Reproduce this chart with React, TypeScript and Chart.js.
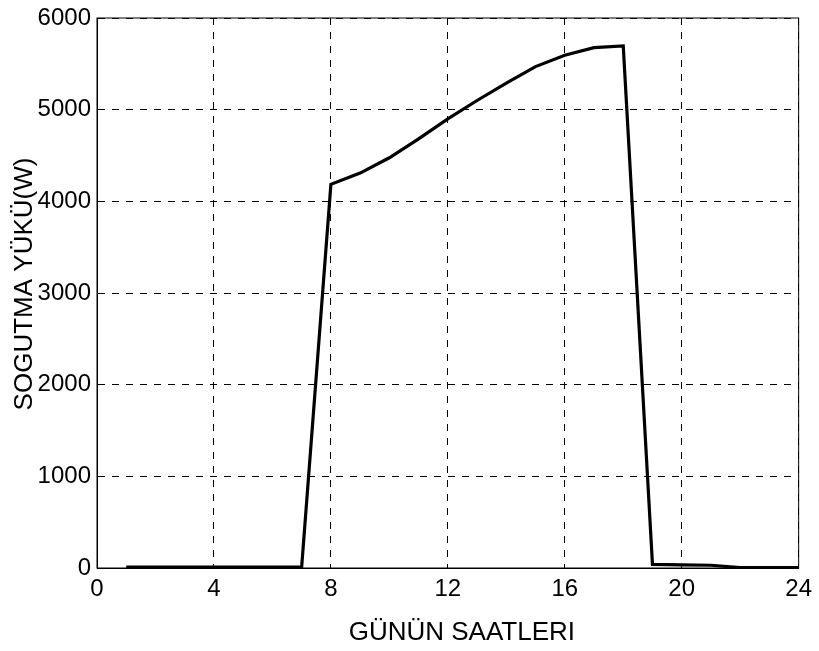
import React, { useEffect, useRef } from "react";
import { Chart, registerables } from "chart.js";

Chart.register(...registerables);

const hours = [1, 2, 3, 4, 5, 6, 7, 8, 9, 10, 11, 12, 13, 14, 15, 16, 17, 18, 19, 20, 21, 22, 23, 24];
const coolingLoad = [10, 10, 10, 10, 10, 10, 10, 4185, 4308, 4475, 4681, 4899, 5100, 5290, 5470, 5594, 5676, 5696, 40, 35, 30, 5, 5, 5];
const xTicks = [0, 4, 8, 12, 16, 20, 24];
const yTicks = [0, 1000, 2000, 3000, 4000, 5000, 6000];
const xTitle = "GÜNÜN SAATLERI";
const yTitle = "SOGUTMA YÜKÜ(W)";

const FONT = "'Liberation Sans', Arial, Helvetica, sans-serif";

const framePlugin = {
  id: "frameAndTitles",
  afterDraw(chart: any) {
    const { ctx, chartArea } = chart;
    const { left, right, top, bottom } = chartArea;
    ctx.save();
    ctx.strokeStyle = "#000";
    ctx.lineWidth = 1;
    ctx.setLineDash([]);
    ctx.strokeRect(left, top, right - left, bottom - top);
    ctx.fillStyle = "#000";
    ctx.font = `26px ${FONT}`;
    ctx.textAlign = "center";
    ctx.textBaseline = "middle";
    ctx.fillText(xTitle, (left + right) / 2 + 14, 633);
    ctx.translate(25, 284);
    ctx.rotate(-Math.PI / 2);
    ctx.fillText(yTitle, 0, 0);
    ctx.restore();
  },
};

export default function App() {
  const ref = useRef<HTMLCanvasElement>(null);
  useEffect(() => {
    document.body.style.margin = "0";
    const canvas = ref.current;
    if (!canvas) return;
    const chart = new Chart(canvas, {
      type: "line",
      data: {
        datasets: [
          {
            data: hours.map((h, i) => ({ x: h, y: coolingLoad[i] })),
            borderColor: "#000",
            borderWidth: 3.2,
            pointRadius: 0,
            tension: 0,
            fill: false,
          },
        ],
      },
      options: {
        responsive: false,
        animation: false,
        layout: { padding: { top: 13, right: 19, left: 0, bottom: 0 } },
        plugins: { legend: { display: false }, tooltip: { enabled: false } },
        scales: {
          x: {
            type: "linear",
            min: 0,
            max: 24,
            afterFit: (s: any) => {
              s.height = 83;
            },
            afterBuildTicks: (s: any) => {
              s.ticks = xTicks.map((v) => ({ value: v }));
            },
            ticks: {
              color: "#000",
              font: { family: FONT, size: 24 },
              padding: 7,
              maxRotation: 0,
              autoSkip: false,
              callback: (v: any) => String(v),
            },
            grid: { color: "#000", lineWidth: 1, drawTicks: false },
            border: { display: true, color: "#000", width: 1, dash: [7, 7] },
          },
          y: {
            type: "linear",
            min: 0,
            max: 6000,
            afterFit: (s: any) => {
              s.width = 97;
            },
            afterBuildTicks: (s: any) => {
              s.ticks = yTicks.map((v) => ({ value: v }));
            },
            ticks: {
              color: "#000",
              font: { family: FONT, size: 24, lineHeight: 1 },
              padding: 6,
              autoSkip: false,
              callback: (v: any) => String(v),
            },
            grid: { color: "#000", lineWidth: 1, drawTicks: false },
            border: { display: true, color: "#000", width: 1, dash: [7, 7] },
          },
        },
      },
      plugins: [framePlugin],
    });
    return () => chart.destroy();
  }, []);
  return (
    <div style={{ position: "absolute", left: 0, top: 0, width: 819, height: 651, background: "#fff" }}>
      <canvas ref={ref} width={819} height={651} />
    </div>
  );
}
